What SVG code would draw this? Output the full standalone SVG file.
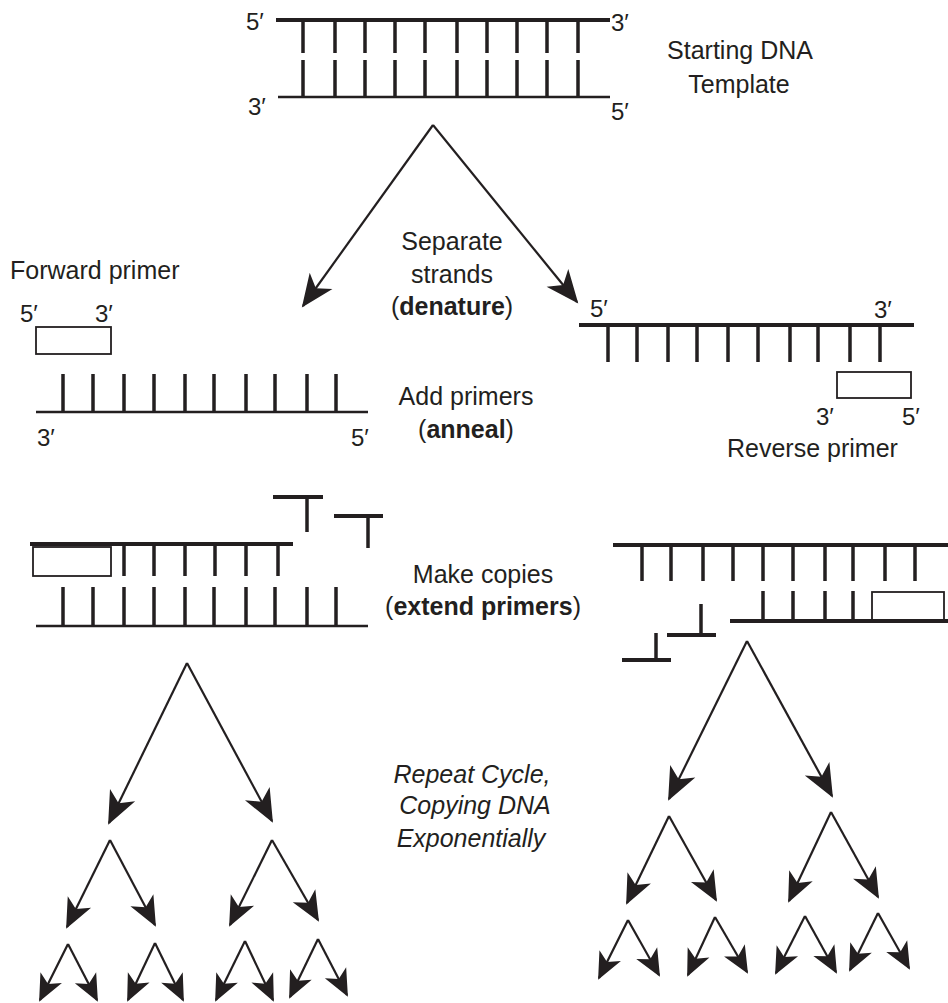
<svg xmlns="http://www.w3.org/2000/svg" width="948" height="1003" viewBox="0 0 948 1003">
<style>
text{font-family:"Liberation Sans",Arial,sans-serif;fill:#231f20;font-size:25px}
.lab{font-size:24px}
.c{text-anchor:middle}
.b{font-weight:bold}
.i{font-style:italic}
.bb{stroke:#231f20;stroke-width:4;fill:none}
.bs{stroke:#231f20;stroke-width:2.5;fill:none}
.r{stroke:#231f20;stroke-width:3.5;fill:none}
.p{stroke:#231f20;stroke-width:1.8;fill:#fff}
.a{stroke:#231f20;stroke-width:2.2;fill:none}
.a1{marker-end:url(#h1)}
.a2{marker-end:url(#h2)}
.a3{marker-end:url(#h3)}
</style>
<defs>
<marker id="h1" markerUnits="userSpaceOnUse" orient="auto" refX="0" refY="0" markerWidth="40" markerHeight="40" overflow="visible"><path d="M2,0 L-31,-14 L-22,0 L-31,14 Z" fill="#231f20"/></marker>
<marker id="h2" markerUnits="userSpaceOnUse" orient="auto" refX="0" refY="0" markerWidth="40" markerHeight="40" overflow="visible"><path d="M2,0 L-28,-13 L-20,0 L-28,13 Z" fill="#231f20"/></marker>
<marker id="h3" markerUnits="userSpaceOnUse" orient="auto" refX="0" refY="0" markerWidth="40" markerHeight="40" overflow="visible"><path d="M2,0 L-25,-12 L-18,0 L-25,12 Z" fill="#231f20"/></marker>
</defs>

<g id="template">
<line class="bb" x1="276" y1="20" x2="610" y2="20"/>
<line class="bs" x1="278" y1="97" x2="610" y2="97"/>
<path class="r" d="M303,20V53M335,20V53M365,20V53M395,20V53M425,20V53M457,20V53M487,20V53M517,20V53M547,20V53M578,20V53"/>
<path class="r" d="M303,60V97M335,60V97M365,60V97M395,60V97M425,60V97M457,60V97M487,60V97M517,60V97M547,60V97M578,60V97"/>
<text class="lab" x="246" y="30">5′</text>
<text class="lab" x="611" y="31">3′</text>
<text class="lab" x="248" y="115">3′</text>
<text class="lab" x="611" y="120">5′</text>
<text class="c" x="740" y="59">Starting DNA</text>
<text class="c" x="739" y="93">Template</text>
</g>

<g id="forward-strand">
<text x="10" y="279">Forward primer</text>
<rect class="p" x="36" y="327" width="75" height="27"/>
<text class="lab" x="20" y="322">5′</text>
<text class="lab" x="95" y="322">3′</text>
<line class="bs" x1="36" y1="412" x2="368" y2="412"/>
<path class="r" d="M63,374V412M93,374V412M124,374V412M154,374V412M185,374V412M214,374V412M246,374V412M275,374V412M307,374V412M336,374V412"/>
<text class="lab" x="37" y="446">3′</text>
<text class="lab" x="351" y="446">5′</text>
</g>

<g id="reverse-strand">
<line class="bb" x1="579" y1="325" x2="914" y2="325"/>
<path class="r" d="M608,325V362M637,325V362M668,325V362M697,325V362M728,325V362M758,325V362M790,325V362M818,325V362M850,325V362M880,325V362"/>
<rect class="p" x="837" y="372" width="74" height="26"/>
<text class="lab" x="590" y="317">5′</text>
<text class="lab" x="874" y="318">3′</text>
<text class="lab" x="816" y="425">3′</text>
<text class="lab" x="902" y="425">5′</text>
<text x="727" y="457">Reverse primer</text>
</g>

<g id="step-labels">
<text class="c" x="452" y="250">Separate</text>
<text class="c" x="452" y="283">strands</text>
<text class="c" x="452" y="315">(<tspan class="b">denature</tspan>)</text>
<text class="c" x="466" y="405">Add primers</text>
<text class="c" x="466" y="438">(<tspan class="b">anneal</tspan>)</text>
<text class="c" x="483" y="583">Make copies</text>
<text class="c" x="483" y="615">(<tspan class="b">extend primers</tspan>)</text>
<text class="c i" x="472" y="783">Repeat Cycle,</text>
<text class="c i" x="475" y="814">Copying DNA</text>
<text class="c i" x="471" y="847">Exponentially</text>
</g>

<g id="copies-left">
<line class="bb" x1="30" y1="544" x2="293" y2="544"/>
<rect class="p" x="33" y="547" width="78" height="29"/>
<path class="r" d="M124,544V576M154,544V576M185,544V576M215,544V576M246,544V576M278,544V576"/>
<path class="r" d="M63,587V626M93,587V626M124,587V626M154,587V626M185,587V626M214,587V626M246,587V626M275,587V626M307,587V626M336,587V626"/>
<line class="bs" x1="36" y1="626" x2="368" y2="626"/>
<line class="bb" x1="273" y1="497" x2="323" y2="497"/>
<line class="r" x1="307" y1="497" x2="307" y2="532"/>
<line class="bb" x1="334" y1="516" x2="383" y2="516"/>
<line class="r" x1="368" y1="516" x2="368" y2="548"/>
</g>

<g id="copies-right">
<line class="bb" x1="613" y1="545" x2="948" y2="545"/>
<path class="r" d="M642,545V581M671,545V581M703,545V581M733,545V581M763,545V581M793,545V581M825,545V581M853,545V581M885,545V581M915,545V581"/>
<path class="r" d="M763,591V621M793,591V621M825,591V621M853,591V621"/>
<rect class="p" x="872" y="592" width="72" height="29"/>
<line class="bb" x1="730" y1="621" x2="948" y2="621"/>
<line class="r" x1="701" y1="604" x2="701" y2="635"/>
<line class="bb" x1="667" y1="635" x2="716" y2="635"/>
<line class="r" x1="656" y1="633" x2="656" y2="660"/>
<line class="bb" x1="622" y1="660" x2="671" y2="660"/>
</g>

<g id="connectors">
<path class="a a1" d="M433,125L303,306"/>
<path class="a a1" d="M433,125L577,302"/>

<path class="a a1" d="M187,663L109,823"/>
<path class="a a1" d="M187,663L272,821"/>
<path class="a a2" d="M110,840L67,927"/>
<path class="a a2" d="M110,840L155,925"/>
<path class="a a2" d="M272,840L230,925"/>
<path class="a a2" d="M272,840L318,920"/>
<path class="a a3" d="M68,944L40,1000"/>
<path class="a a3" d="M68,944L97,1000"/>
<path class="a a3" d="M155,943L128,1000"/>
<path class="a a3" d="M155,943L183,1000"/>
<path class="a a3" d="M245,941L216,1000"/>
<path class="a a3" d="M245,941L273,1000"/>
<path class="a a3" d="M318,939L290,997"/>
<path class="a a3" d="M318,939L347,995"/>

<path class="a a1" d="M747,641L669,799"/>
<path class="a a1" d="M747,641L832,796"/>
<path class="a a2" d="M669,816L627,903"/>
<path class="a a2" d="M669,816L716,900"/>
<path class="a a2" d="M831,812L789,901"/>
<path class="a a2" d="M831,812L878,897"/>
<path class="a a3" d="M628,920L599,978"/>
<path class="a a3" d="M628,920L659,975"/>
<path class="a a3" d="M715,917L688,975"/>
<path class="a a3" d="M715,917L747,972"/>
<path class="a a3" d="M805,916L776,973"/>
<path class="a a3" d="M805,916L836,972"/>
<path class="a a3" d="M878,913L850,970"/>
<path class="a a3" d="M878,913L909,968"/>
</g>
</svg>
